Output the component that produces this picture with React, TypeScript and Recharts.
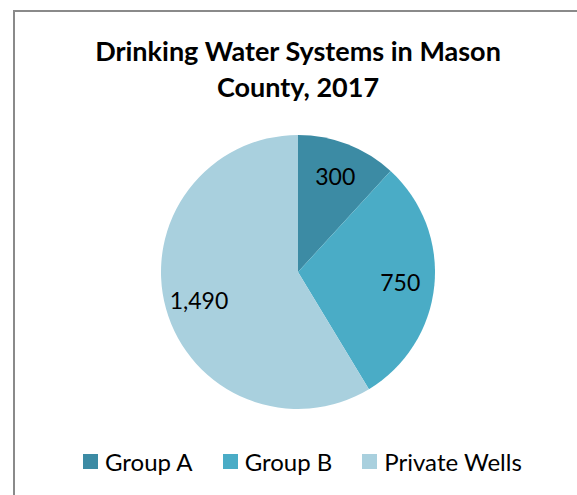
import { PieChart, Pie, Cell } from 'recharts';

const categories = ['Group A', 'Group B', 'Private Wells'];
const systemCounts = [300, 750, 1490];
const sliceColors = ['#3c8ba4', '#4aacc6', '#a9d0de'];

const data = categories.map((name, i) => ({ name, value: systemCounts[i] }));

const RADIAN = Math.PI / 180;
const FONT = 'Lato, sans-serif';

const renderLabel = (props: any) => {
  const { cx, cy, midAngle, outerRadius, value } = props;
  const r = outerRadius * 0.75;
  const x = cx + r * Math.cos(-midAngle * RADIAN);
  const y = cy + r * Math.sin(-midAngle * RADIAN);
  return (
    <text x={x} y={y} fill="#000" textAnchor="middle" dominantBaseline="central" fontSize={23} fontFamily={FONT}>
      {value.toLocaleString('en-US')}
    </text>
  );
};

export default function App() {
  return (
    <div style={{ position: 'fixed', left: 0, top: 0, width: 577, height: 495, overflow: 'hidden', background: '#fff' }}>
      <div style={{ position: 'absolute', left: 13, top: 10, width: 600, height: 520, border: '2px solid #8a8a8a', boxSizing: 'border-box' }} />
      <div
        style={{
          position: 'absolute', left: 0, top: 33, width: 596, textAlign: 'center',
          fontFamily: FONT, fontWeight: 700, fontSize: 27, lineHeight: '36px', color: '#000',
        }}
      >
        Drinking Water Systems in Mason<br />County, 2017
      </div>
      <div style={{ position: 'absolute', left: 0, top: 0 }}>
        <PieChart width={577} height={495} margin={{ top: 0, right: 0, bottom: 0, left: 0 }}>
          <Pie
            data={data}
            dataKey="value"
            nameKey="name"
            cx={298}
            cy={272}
            outerRadius={137}
            startAngle={90}
            endAngle={-270}
            stroke="none"
            label={renderLabel}
            labelLine={false}
            isAnimationActive={false}
          >
            {data.map((entry, i) => (
              <Cell key={entry.name} fill={sliceColors[i]} />
            ))}
          </Pie>
        </PieChart>
      </div>
      <div
        style={{
          position: 'absolute', left: 83, top: 447, display: 'flex', alignItems: 'center', gap: 30,
          fontFamily: FONT, fontSize: 24, color: '#000', whiteSpace: 'nowrap',
        }}
      >
        {categories.map((c, i) => (
          <div key={c} style={{ display: 'flex', alignItems: 'center' }}>
            <span style={{ display: 'inline-block', width: 15, height: 15, background: sliceColors[i], marginRight: 7 }} />
            <span>{c}</span>
          </div>
        ))}
      </div>
    </div>
  );
}
